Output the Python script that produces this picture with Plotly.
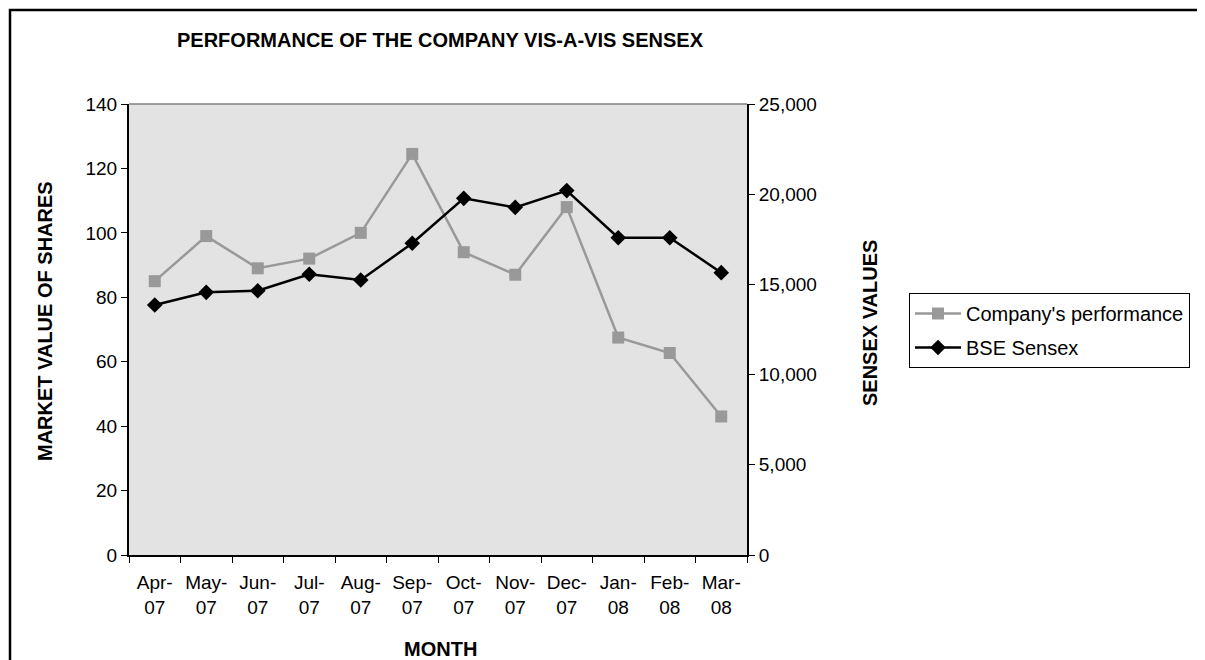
import plotly.graph_objects as go

months = ["Apr-07", "May-07", "Jun-07", "Jul-07", "Aug-07", "Sep-07",
          "Oct-07", "Nov-07", "Dec-07", "Jan-08", "Feb-08", "Mar-08"]
company = [85, 99, 89, 92, 100, 124.5, 94, 87, 108, 67.5, 62.7, 43]
sensex = [13860, 14560, 14650, 15560, 15240, 17280, 19770, 19270, 20200, 17590, 17590, 15650]
tick_text = [m.replace("-", "-<br>") for m in months]

FONT = "Liberation Sans, Arial, sans-serif"

fig = go.Figure()
fig.add_trace(go.Scatter(
    x=months, y=company, name="Company's performance", mode="lines+markers",
    legendgroup="a",
    line=dict(color="#999999", width=2.5),
    marker=dict(symbol="square", size=12, color="#999999"),
    yaxis="y"))
fig.add_trace(go.Scatter(
    x=months, y=sensex, name="BSE Sensex", mode="lines+markers",
    legendgroup="b",
    line=dict(color="#000000", width=2.5),
    marker=dict(symbol="diamond", size=12, color="#000000"),
    yaxis="y2"))

OFF = 8  # page body margin
W, H = 1205 - OFF, 660 - OFF
L, R, T, B = 129 - OFF, 747 - OFF, 104 - OFF, 555 - OFF
pw, ph = R - L, B - T


def px(x):
    return (x - OFF - L) / pw


def py(y):
    return (B - (y - OFF)) / ph


def label(text, x, y, angle=0):
    return dict(text=text, xref="paper", yref="paper", x=px(x), y=py(y),
                xanchor="center", yanchor="middle", textangle=angle,
                showarrow=False, font=dict(size=20))


fig.update_layout(
    width=W, height=H,
    margin=dict(l=L, r=W - R, t=T, b=H - B, pad=0, autoexpand=False),
    paper_bgcolor="white", plot_bgcolor="#e3e3e3",
    font=dict(family=FONT, size=19, color="black"),
    showlegend=True,
    legend=dict(x=px(909), y=py(293), xanchor="left", yanchor="top",
                bordercolor="black", borderwidth=1, bgcolor="white",
                font=dict(size=20), tracegroupgap=5, itemwidth=46),
    xaxis=dict(type="category", tickmode="array", tickvals=months, ticktext=tick_text,
               range=[-0.5, len(months) - 0.5],
               tickangle=0, tickson="boundaries", ticks="outside", ticklen=6, tickcolor="black",
               ticklabelstandoff=9,
               showline=True, linecolor="black", linewidth=2, showgrid=False,
               zeroline=False, mirror=False, tickfont=dict(size=19)),
    yaxis=dict(range=[0, 140], dtick=20, ticks="outside", ticklen=6, tickcolor="black",
               showline=True, linecolor="black", linewidth=2, showgrid=False,
               zeroline=False, tickfont=dict(size=19)),
    yaxis2=dict(range=[0, 25000], dtick=5000, tickformat=",", overlaying="y", side="right",
                ticks="outside", ticklen=6, tickcolor="black",
                showline=True, linecolor="black", linewidth=2, showgrid=False,
                zeroline=False, tickfont=dict(size=19)),
    shapes=[
        dict(type="line", xref="paper", yref="paper", x0=0, x1=1, y0=1, y1=1,
             line=dict(color="#808080", width=1.5)),
        dict(type="rect", xref="paper", yref="paper",
             x0=px(10), x1=px(1225), y0=py(10), y1=py(680),
             line=dict(color="black", width=2.5)),
    ],
    annotations=[
        label("<b>PERFORMANCE OF THE COMPANY VIS-A-VIS SENSEX</b>", 440, 40),
        label("<b>MARKET VALUE OF SHARES</b>", 45, 321, -90),
        label("<b>SENSEX VALUES</b>", 870, 323, -90),
        label("<b>MONTH</b>", 440, 649),
    ],
)

fig.write_html("out.html")
